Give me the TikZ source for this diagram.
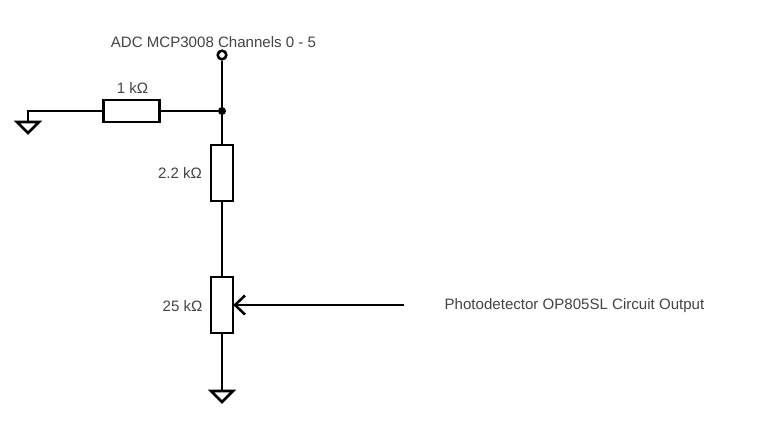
\documentclass[tikz,border=0pt]{standalone}
\usepackage{fontspec}
\setmainfont{Liberation Sans}
\usetikzlibrary{arrows.meta}
\definecolor{lbl}{HTML}{444444}
\tikzset{
  x=0.75pt,y=-0.75pt,
  wire/.style={line width=1.9pt,black},
  resh/.style={draw=black,line width=1.9pt,fill=white,minimum width=42pt,minimum height=16.5pt,inner sep=0pt,anchor=center},
  resv/.style={draw=black,line width=1.9pt,fill=white,minimum width=16.5pt,minimum height=42pt,inner sep=0pt,anchor=center},
  lab/.style={text=lbl,font=\fontsize{11.3pt}{13pt}\selectfont,inner sep=0pt,anchor=center},
  gnd/.style={wire,line join=miter},
  term/.style={circle,draw=black,line width=1.9pt,fill=white,minimum size=6.5pt,inner sep=0pt},
  junc/.style={circle,fill=black,minimum size=6pt,inner sep=0pt}
}
\begin{document}
\begin{tikzpicture}
\useasboundingbox (0,0) rectangle (777,444);
\fill[white] (0,0) rectangle (777,444);
% nodes
\node[term] (adc) at (222,55) {};
\node[junc] (j) at (222,111) {};
\node[resh] (r1) at (131.75,111) {};
\node[resv] (r2) at (222,173) {};
\node[resv] (r3) at (222,305) {};
\coordinate (c) at (28,111);
\coordinate (g1) at (28,122);
\coordinate (g2) at (222,391);
\coordinate (p) at (404,305);
\coordinate (tip) at (235,305);
% wires
\draw[wire] (adc) -- (j);
\draw[wire] (j) -- (r1);
\draw[wire] (r1) -- (c) -- (g1);
\draw[wire] (j) -- (r2);
\draw[wire] (r2) -- (r3);
\draw[wire] (r3) -- (g2);
\draw[gnd] (17,122) -- (39,122) -- (28,133) -- cycle;
\draw[gnd] (211,391) -- (233,391) -- (222,402) -- cycle;
\draw[wire] (p) -- (tip);
\draw[wire] (245,295.5) -- (tip) -- (245,314.5);
% labels
\node[lab] (t1) at (213.5,42) {ADC MCP3008 Channels 0 - 5};
\node[lab] (t2) at (132.5,88) {1 kΩ};
\node[lab] (t3) at (180,173.5) {2.2 kΩ};
\node[lab] (t4) at (182.5,306) {25 kΩ};
\node[lab] (t5) at (574.5,305.5) {Photodetector OP805SL Circuit Output};
\end{tikzpicture}
\end{document}
